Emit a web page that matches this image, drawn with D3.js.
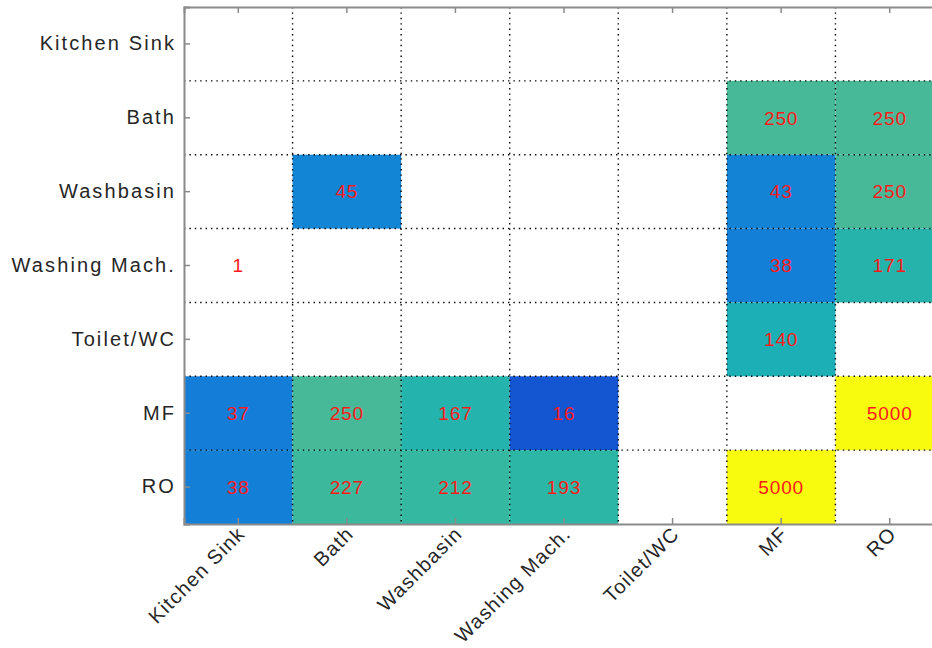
<!DOCTYPE html>
<html>
<head>
<meta charset="utf-8">
<script src="https://cdn.jsdelivr.net/npm/d3@7"></script>
<style>
  body { margin: 0; background: #fff; }
  svg { display: block; }
  text { font-family: "Liberation Sans", Arial, sans-serif; }
</style>
</head>
<body>
<div id="chart"></div>
<script>
// categories (same on both axes), top-to-bottom and left-to-right
const categories = ["Kitchen Sink", "Bath", "Washbasin", "Washing Mach.", "Toilet/WC", "MF", "RO"];

// cell values, one array per row (null = empty)
const rowKitchenSink = [null, null, null, null, null, null, null];
const rowBath        = [null, null, null, null, null, 250, 250];
const rowWashbasin   = [null, 45, null, null, null, 43, 250];
const rowWashingMach = [1, null, null, null, null, 38, 171];
const rowToilet      = [null, null, null, null, null, 140, null];
const rowMF          = [37, 250, 167, 16, null, null, 5000];
const rowRO          = [38, 227, 212, 193, null, 5000, null];

const rows = [rowKitchenSink, rowBath, rowWashbasin, rowWashingMach, rowToilet, rowMF, rowRO];

// parula-like colormap stops
const parula = ["#352a87", "#0f5cdd", "#1481d6", "#06a4ca", "#2eb7a4", "#87bf77", "#d1bb59", "#fec832", "#f9fb0e"];

let margin = { top: 7, left: 184 },
    plotW = 760,
    plotH = 517;

const svg = d3.select("#chart")
    .append("svg")
    .attr("width", 932)
    .attr("height", 648);

const g = svg.append("g")
    .attr("transform", `translate(${margin.left},${margin.top})`);

const x = d3.scaleBand().domain(categories).range([0, plotW]);
const y = d3.scaleBand().domain(categories).range([0, plotH]);

const color = d3.scaleSequentialLog(d3.piecewise(d3.interpolateRgb, parula))
    .domain([8, 5000])
    .clamp(true);

const cells = [];
rows.forEach((r, i) => {
    r.forEach((v, j) => {
        if (v !== null) cells.push({ row: categories[i], col: categories[j], value: v });
    });
});

g.append("g")
    .selectAll("rect")
    .data(cells)
    .join("rect")
    .attr("x", d => x(d.col))
    .attr("y", d => y(d.row))
    .attr("width", x.bandwidth())
    .attr("height", y.bandwidth())
    .attr("fill", d => d.value > 1 ? color(d.value) : "#fff");

// dotted grid on cell borders
const inner = categories.slice(1);
g.append("g")
    .selectAll("line")
    .data(inner)
    .join("line")
    .attr("x1", d => x(d)).attr("x2", d => x(d))
    .attr("y1", 0).attr("y2", plotH)
    .attr("stroke", "#000")
    .attr("stroke-width", 1.4)
    .attr("stroke-dasharray", "1.4,4");
g.append("g")
    .selectAll("line")
    .data(inner)
    .join("line")
    .attr("y1", d => y(d)).attr("y2", d => y(d))
    .attr("x1", 0).attr("x2", plotW)
    .attr("stroke", "#000")
    .attr("stroke-width", 1.4)
    .attr("stroke-dasharray", "1.4,4");

// value labels
g.append("g")
    .selectAll("text")
    .data(cells)
    .join("text")
    .attr("x", d => x(d.col) + x.bandwidth() / 2)
    .attr("y", d => y(d.row) + y.bandwidth() / 2)
    .attr("dy", "0.36em")
    .attr("text-anchor", "middle")
    .style("font-size", "19px")
    .style("letter-spacing", "0.9px")
    .style("fill", "#ff1a1a")
    .text(d => d.value);

// axes
const axisColor = "#8a8a8a";

const leftAxis = g.append("g")
    .call(d3.axisLeft(y).tickSize(-6).tickPadding(8));
const topAxis = g.append("g")
    .call(d3.axisTop(x).tickSize(-6).tickFormat(""));
const bottomAxis = g.append("g")
    .attr("transform", `translate(0,${plotH})`)
    .call(d3.axisBottom(x).tickSize(-6).tickFormat(""));

[leftAxis, topAxis, bottomAxis].forEach(a => {
    a.select(".domain").attr("stroke", axisColor).attr("stroke-width", 2);
    a.selectAll(".tick line").attr("stroke", axisColor).attr("stroke-width", 1.5);
});

leftAxis.selectAll(".tick text")
    .style("font-size", "20px")
    .style("letter-spacing", "2.1px")
    .style("font-family", "'Liberation Sans', Arial, sans-serif")
    .attr("fill", "#262626");

// rotated x labels
g.append("g")
    .selectAll("text")
    .data(categories)
    .join("text")
    .attr("transform", d => `translate(${x(d) + x.bandwidth() / 2 + 8},${plotH + 11}) rotate(-45)`)
    .attr("text-anchor", "end")
    .style("font-size", "20px")
    .style("letter-spacing", "1.3px")
    .style("fill", "#262626")
    .text(d => d);
</script>
</body>
</html>
